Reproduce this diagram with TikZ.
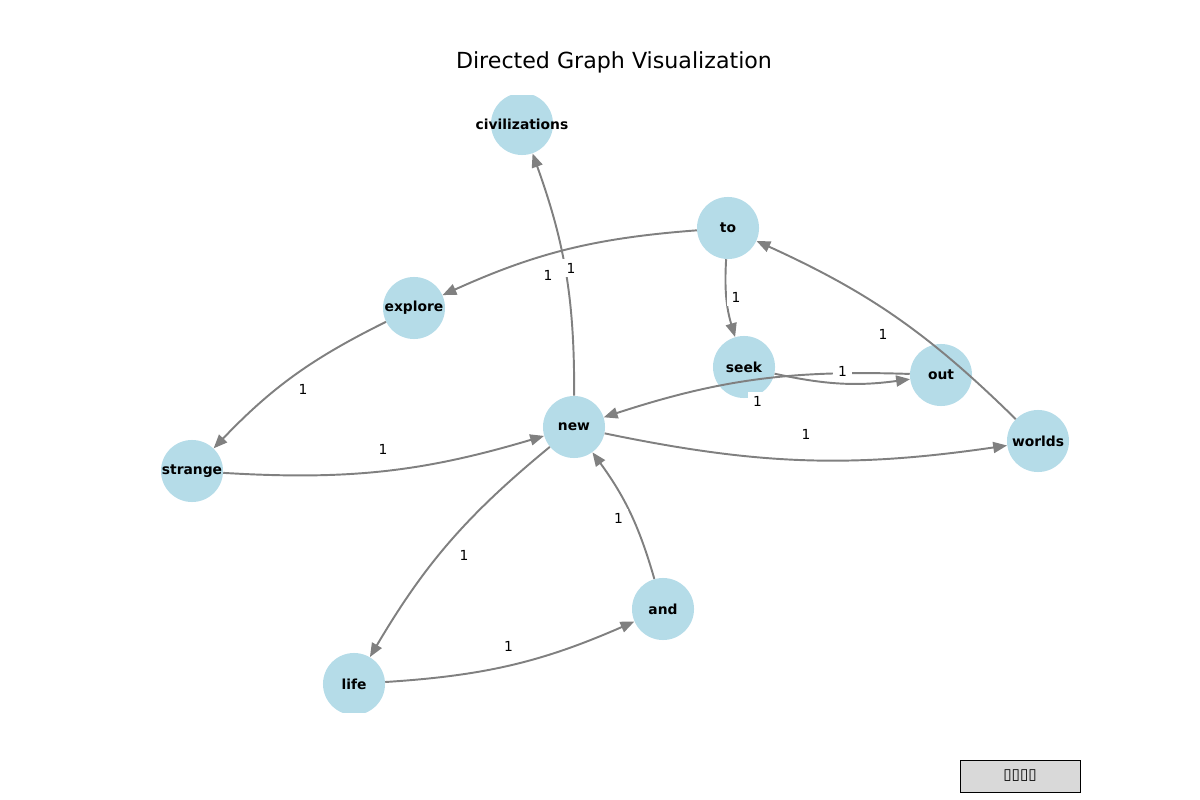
\documentclass[tikz,border=0pt]{standalone}
\usepackage{fontspec}
\setmainfont{DejaVu Sans}
\usepackage{tikz}
\usetikzlibrary{calc}
\usetikzlibrary{arrows.meta}
\definecolor{nodeblue}{HTML}{ADD8E6}
\definecolor{edgegray}{HTML}{808080}
\definecolor{btngray}{HTML}{D9D9D9}
\tikzset{>={Triangle[length=10pt, width=8pt]}}
\tikzstyle{word} = [circle, fill=nodeblue, fill opacity=0.9, text opacity=1, minimum size=0.62in, inner sep=0, font=\fontsize{10}{12}\selectfont\bfseries]
\tikzstyle{link} = [->, edgegray, line width=1.4pt, bend right=10]
\tikzstyle{weight} = [fill=white, inner xsep=3.5pt, inner ysep=2.5pt, font=\fontsize{10}{11}\selectfont]

\begin{document}
\begin{tikzpicture}[x=0.01in, y=-0.01in]
\useasboundingbox (0,0) rectangle (1200,800);
\node [draw=none, font=\fontsize{16}{19}\selectfont] (title) at (614,62) {Directed Graph Visualization};
\begin{scope}
\clip (150,96) rectangle (1080,712);
%\draw [red] (150,96) rectangle (1080,712);
\node [word] (civilizations) at (522,124) {\makebox[0pt]{civilizations}};
\node [word] (to) at (728,228) {\makebox[0pt]{to}};
\node [word] (explore) at (414,308) {\makebox[0pt]{explore}};
\node [word] (seek) at (744,367) {\makebox[0pt]{seek}};
\node [word] (out) at (941,375) {\makebox[0pt]{out}};
\node [word] (new) at (574,427) {\makebox[0pt]{new}};
\node [word] (worlds) at (1038,441) {\makebox[0pt]{worlds}};
\node [word] (strange) at (192,471) {\makebox[0pt]{strange}};
\node [word] (and) at (663,609) {\makebox[0pt]{and}};
\node [word] (life) at (354,684) {\makebox[0pt]{life}};
\draw [link] (new) to (civilizations);
\draw [link] (to) to (explore);
\draw [link] (explore) to (strange);
\draw [link] (strange) to (new);
\draw [link] (to) to (seek);
\draw [link] (seek) to (out);
\draw [link] (out) to (new);
\draw [link] (worlds) to (to);
\draw [link] (new) to (worlds);
\draw [link] (new) to (life);
\draw [link] (life) to (and);
\draw [link] (and) to (new);
\node [weight] (w1) at ($(new)!0.5!(civilizations)$) {1};
\node [weight] (w2) at ($(to)!0.5!(explore)$) {1};
\node [weight] (w3) at ($(explore)!0.5!(strange)$) {1};
\node [weight] (w4) at ($(strange)!0.5!(new)$) {1};
\node [weight] (w5) at ($(to)!0.5!(seek)$) {1};
\node [weight] (w6) at ($(seek)!0.5!(out)$) {1};
\node [weight] (w7) at ($(out)!0.5!(new)$) {1};
\node [weight] (w8) at ($(worlds)!0.5!(to)$) {1};
\node [weight] (w9) at ($(new)!0.5!(worlds)$) {1};
\node [weight] (w10) at ($(new)!0.5!(life)$) {1};
\node [weight] (w11) at ($(life)!0.5!(and)$) {1};
\node [weight] (w12) at ($(and)!0.5!(new)$) {1};
\end{scope}
\node [draw=black, fill=btngray, minimum width=1.2in, minimum height=0.32in, inner sep=0, font=\fontsize{11}{13}\selectfont] (button) at (1020,776) {▯▯▯▯};
\end{tikzpicture}
\end{document}
